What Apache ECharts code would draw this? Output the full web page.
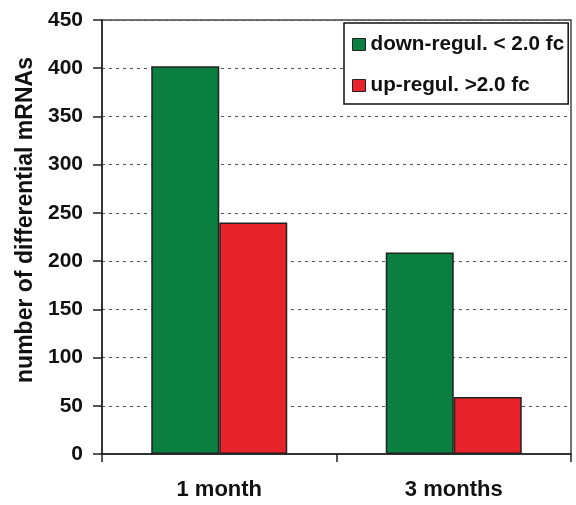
<!DOCTYPE html>
<html>
<head>
<meta charset="utf-8">
<script src="https://cdn.jsdelivr.net/npm/echarts@6/dist/echarts.min.js"></script>
<style>
  html, body { margin: 0; padding: 0; background: #fff; }
  #chart { width: 576px; height: 505px; }
</style>
</head>
<body>
<div id="chart"></div>
<script>
// data
var categories = ['1 month', '3 months'];
var downRegul = [402, 209];
var upRegul = [240, 59];
var seriesNames = ['down-regul. < 2.0 fc', 'up-regul. >2.0 fc'];

var myChart = echarts.init(document.getElementById('chart'));

var font = '"Liberation Sans", Arial, sans-serif';

var option = {
    animation: false,
    grid: {
        left: 102, right: 5, top: 20, bottom: 51,
        show: true,
        borderColor: '#444',
        borderWidth: 1.5
    },
    legend: {
        orient: 'vertical',
        left: 344,
        top: 23,
        padding: [11, 4, 8, 8],
        itemGap: 20,
        itemWidth: 13,
        itemHeight: 12,
        borderColor: '#111',
        borderWidth: 1.5,
        backgroundColor: '#fff',
        icon: 'rect',
        itemStyle: { borderColor: '#222', borderWidth: 1 },
        textStyle: { fontFamily: font, fontWeight: 'bold', fontSize: 20.7, color: '#111' },
        data: seriesNames
    },
    xAxis: {
        type: 'category',
        data: categories,
        axisLine: { lineStyle: { color: '#222', width: 1.5 } },
        axisTick: { show: true, length: 8, alignWithLabel: false, lineStyle: { color: '#222', width: 1.5 } },
        axisLabel: { margin: 25, fontFamily: font, fontWeight: 'bold', fontSize: 22, color: '#111' }
    },
    yAxis: {
        type: 'value',
        min: 0,
        max: 450,
        interval: 50,
        name: 'number of differential mRNAs',
        nameLocation: 'middle',
        nameGap: 59,
        nameTextStyle: { fontFamily: font, fontWeight: 'bold', fontSize: 23, color: '#111', padding: [0, 0, 0, 34] },
        axisLine: { show: true, lineStyle: { color: '#222', width: 1.5 } },
        axisTick: { show: true, length: 9, lineStyle: { color: '#222', width: 1.5 } },
        axisLabel: { margin: 19, fontFamily: font, fontWeight: 'bold', fontSize: 21, color: '#111' },
        splitLine: { show: true, lineStyle: { color: '#555', type: [3, 4], width: 1.2 } }
    },
    series: [
        {
            name: seriesNames[0],
            type: 'bar',
            data: downRegul,
            barGap: '0%',
            barCategoryGap: '42%',
            itemStyle: { color: '#0b7f3f', borderColor: '#222', borderWidth: 1.5 }
        },
        {
            name: seriesNames[1],
            type: 'bar',
            data: upRegul,
            itemStyle: { color: '#e8232b', borderColor: '#222', borderWidth: 1.5 }
        }
    ]
};

myChart.setOption(option);
</script>
</body>
</html>
